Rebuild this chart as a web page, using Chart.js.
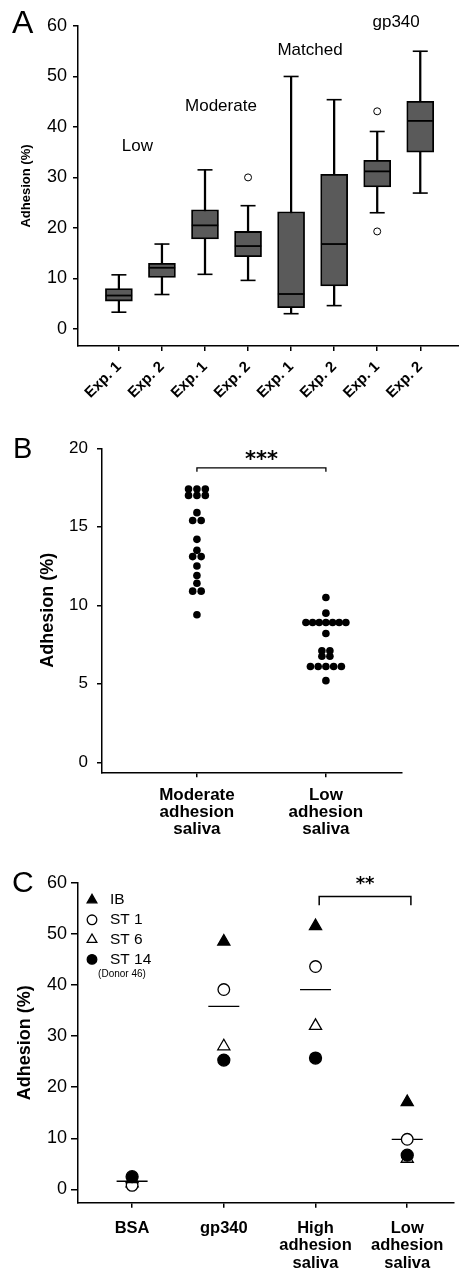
<!DOCTYPE html>
<html>
<head>
<meta charset="utf-8">
<script src="https://cdn.jsdelivr.net/npm/chart.js"></script>
<style>
  html, body { margin: 0; padding: 0; background: #fff; }
  .panel { position: absolute; left: 0; width: 459px; }
  canvas { display: block; }
</style>
</head>
<body>
<div class="panel" style="top:0px"><canvas id="chartA" width="459" height="415"></canvas></div>
<div class="panel" style="top:415px"><canvas id="chartB" width="459" height="430"></canvas></div>
<div class="panel" style="top:845px"><canvas id="chartC" width="459" height="423"></canvas></div>
<script>
// ---------- Panel A : box plots ----------
const expLabels = ['Exp. 1', 'Exp. 2', 'Exp. 1', 'Exp. 2', 'Exp. 1', 'Exp. 2', 'Exp. 1', 'Exp. 2'];
const groupNames = ['Low', 'Moderate', 'Matched', 'gp340'];
const whiskerLow = [3.3, 6.8, 10.8, 9.6, 3.0, 4.6, 23.0, 26.9];
const q1 = [5.5, 10.2, 17.8, 14.3, 4.2, 8.5, 28.1, 35.0];
const median = [6.6, 12.1, 20.5, 16.4, 6.9, 16.8, 31.2, 41.2];
const q3 = [8.0, 13.0, 23.6, 19.3, 23.2, 30.6, 33.4, 45.1];
const whiskerHigh = [10.7, 16.8, 31.5, 24.4, 50.0, 45.4, 39.1, 55.0];
const outliers = [[], [], [], [30.0], [], [], [43.1, 19.3], []];
const yTicksA = [0, 10, 20, 30, 40, 50, 60];

// ---------- Panel B : dot plot ----------
const bCategories = [['Moderate', 'adhesion', 'saliva'], ['Low', 'adhesion', 'saliva']];
const bModerate = [17.4, 17.4, 17.4, 17.0, 17.0, 17.0, 15.9, 15.4, 15.4, 14.2, 13.5, 13.1, 13.1, 12.5, 11.9, 11.4, 10.9, 10.9, 9.4];
const bModerateJitter = [-0.065, 0, 0.065, -0.065, 0, 0.065, 0, -0.033, 0.033, 0, 0, -0.033, 0.033, 0, 0, 0, -0.033, 0.033, 0];
const bLow = [10.5, 9.5, 8.9, 8.9, 8.9, 8.9, 8.9, 8.9, 8.9, 8.2, 7.1, 7.1, 6.75, 6.75, 6.1, 6.1, 6.1, 6.1, 6.1, 5.2];
const bLowJitter = [0, 0, -0.155, -0.103, -0.052, 0, 0.052, 0.103, 0.155, 0, -0.031, 0.031, -0.031, 0.031, -0.12, -0.06, 0, 0.06, 0.12, 0];
const yTicksB = [0, 5, 10, 15, 20];

// ---------- Panel C : strains ----------
const cCategories = [['BSA'], ['gp340'], ['High', 'adhesion', 'saliva'], ['Low', 'adhesion', 'saliva']];
const cIB = [2.0, 48.5, 51.5, 17.1];
const cST1 = [0.8, 39.1, 43.6, 9.8];
const cST6 = [1.2, 28.0, 32.0, 6.0];
const cST14 = [2.5, 25.3, 25.7, 6.7];
const cMean = [1.6, 35.8, 39.1, 9.8];
const yTicksC = [0, 10, 20, 30, 40, 50, 60];

Chart.defaults.font.family = '"Liberation Sans", Arial, sans-serif';
Chart.defaults.color = '#000';

const toXY = (vals, xs) => vals.map((v, i) => ({ x: xs(i), y: v }));

function axisLines(tickLength) {
  return {
    border: { display: true, color: '#000', width: 1.5 },
    grid: { display: true, drawOnChartArea: false, drawTicks: true, tickLength: tickLength, color: '#000', lineWidth: 1.5, offset: false }
  };
}

// keep the x axis from reserving extra room for its end labels
function fixX(height) {
  return s => { s.height = height; s.paddingLeft = 0; s.paddingRight = 0; };
}

// text annotations (panel letters, group names)
const textPlugin = {
  id: 'texts',
  afterDraw(chart, args, opts) {
    const ctx = chart.ctx;
    ctx.save();
    ctx.fillStyle = '#000';
    (opts.items || []).forEach(it => {
      ctx.font = it.font;
      ctx.textAlign = it.align || 'left';
      ctx.textBaseline = it.baseline || 'alphabetic';
      const x = it.px !== undefined ? it.px : chart.scales.x.getPixelForValue(it.x);
      const y = it.py !== undefined ? it.py : chart.scales.y.getPixelForValue(it.y);
      ctx.fillText(it.text, x, y);
    });
    ctx.restore();
  }
};

// significance bracket
const bracketPlugin = {
  id: 'bracket',
  afterDatasetsDraw(chart, args, o) {
    if (o.from === undefined) return;
    const { x, y } = chart.scales;
    const ctx = chart.ctx;
    const x1 = x.getPixelForValue(o.from), x2 = x.getPixelForValue(o.to);
    const yt = y.getPixelForValue(o.y), yb = y.getPixelForValue(o.y - o.drop);
    ctx.save();
    ctx.strokeStyle = '#000';
    ctx.lineWidth = o.width;
    ctx.beginPath();
    ctx.moveTo(x1, yb); ctx.lineTo(x1, yt); ctx.lineTo(x2, yt); ctx.lineTo(x2, yb);
    ctx.stroke();
    ctx.fillStyle = '#000';
    ctx.font = o.font;
    ctx.textAlign = 'center';
    ctx.textBaseline = 'middle';
    ctx.fillText(o.label, x.getPixelForValue((o.from + o.to) / 2), y.getPixelForValue(o.labelY));
    ctx.restore();
  }
};

// ---------- Chart A ----------
new Chart(document.getElementById('chartA'), {
  type: 'bar',
  data: {
    datasets: [
      {
        type: 'scatter', label: 'median', order: 0,
        data: toXY(median, i => i + 1),
        pointStyle: 'line', pointRadius: 13.2, pointBorderWidth: 1.8, pointBorderColor: '#000'
      },
      {
        type: 'scatter', label: 'caps', order: 0,
        data: toXY(whiskerLow, i => i + 1).concat(toXY(whiskerHigh, i => i + 1)),
        pointStyle: 'line', pointRadius: 7.5, pointBorderWidth: 1.6, pointBorderColor: '#000'
      },
      {
        type: 'scatter', label: 'outliers', order: 0,
        data: outliers.flatMap((arr, i) => arr.map(v => ({ x: i + 1, y: v }))),
        pointStyle: 'circle', pointRadius: 3.5, pointBorderWidth: 1, pointBorderColor: '#000', pointBackgroundColor: '#fff'
      },
      {
        label: 'box', order: 1, grouped: false,
        data: q1.map((v, i) => ({ x: i + 1, y: [v, q3[i]] })),
        backgroundColor: '#5a5a5a', borderColor: '#000', borderWidth: 1.8, borderSkipped: false,
        barThickness: 27
      },
      {
        label: 'whisker', order: 2, grouped: false,
        data: whiskerLow.map((v, i) => ({ x: i + 1, y: [v, whiskerHigh[i]] })),
        backgroundColor: '#000', borderWidth: 0, barThickness: 1.6
      }
    ]
  },
  options: {
    responsive: false, animation: false, devicePixelRatio: 1,
    layout: { autoPadding: false, padding: { left: 0, right: 0, top: 26, bottom: 0 } },
    plugins: {
      legend: { display: false }, tooltip: { enabled: false },
      texts: {
        items: [
          { text: 'A', font: '32px "Liberation Sans"', px: 12, py: 33 },
          { text: groupNames[0], font: '17px "Liberation Sans"', x: 1.43, y: 36.2, align: 'center', baseline: 'middle' },
          { text: groupNames[1], font: '17px "Liberation Sans"', x: 3.37, y: 44.0, align: 'center', baseline: 'middle' },
          { text: groupNames[2], font: '17px "Liberation Sans"', x: 5.44, y: 55.2, align: 'center', baseline: 'middle' },
          { text: groupNames[3], font: '17px "Liberation Sans"', x: 7.44, y: 60.8, align: 'center', baseline: 'middle' }
        ]
      }
    },
    scales: {
      x: {
        type: 'linear', min: 0.05, max: 8.9, offset: false,
        ...axisLines(5),
        afterBuildTicks: s => { s.ticks = expLabels.map((_, i) => ({ value: i + 1 })); },
        afterFit: fixX(69),
        ticks: {
          autoSkip: false, minRotation: 45, maxRotation: 45, padding: 7,
          font: { size: 15, weight: 'bold' },
          callback: v => expLabels[v - 1]
        }
      },
      y: {
        min: -3.4, max: 60,
        ...axisLines(5),
        afterBuildTicks: s => { s.ticks = yTicksA.map(v => ({ value: v })); },
        afterFit: s => { s.width = 78; },
        ticks: { padding: 6, font: { size: 18 } },
        title: { display: true, text: 'Adhesion (%)', font: { size: 13, weight: 'bold' }, padding: { top: 19, bottom: 0 } }
      }
    }
  },
  plugins: [textPlugin]
});

// ---------- Chart B ----------
new Chart(document.getElementById('chartB'), {
  type: 'scatter',
  data: {
    datasets: [
      {
        label: 'Moderate adhesion saliva',
        data: toXY(bModerate, i => 1 + bModerateJitter[i]),
        pointRadius: 3.8, pointBackgroundColor: '#000', pointBorderColor: '#000', pointBorderWidth: 0
      },
      {
        label: 'Low adhesion saliva',
        data: toXY(bLow, i => 2 + bLowJitter[i]),
        pointRadius: 3.8, pointBackgroundColor: '#000', pointBorderColor: '#000', pointBorderWidth: 0
      }
    ]
  },
  options: {
    responsive: false, animation: false, devicePixelRatio: 1,
    layout: { autoPadding: false, padding: { left: 0, right: 57, top: 33.3, bottom: 0 } },
    plugins: {
      legend: { display: false }, tooltip: { enabled: false },
      texts: { items: [{ text: 'B', font: '29px "Liberation Sans"', px: 13, py: 43 }] },
      bracket: { from: 1, to: 2, y: 18.75, drop: 0.25, width: 1.3, label: '***', labelY: 19.25, font: 'bold 21px "DejaVu Sans"' }
    },
    scales: {
      x: {
        type: 'linear', min: 0.264, max: 2.59,
        ...axisLines(5),
        afterBuildTicks: s => { s.ticks = bCategories.map((_, i) => ({ value: i + 1 })); },
        afterFit: fixX(72.7),
        ticks: {
          autoSkip: false, maxRotation: 0, minRotation: 0, padding: 10,
          font: { size: 17, weight: 'bold', lineHeight: 0.98 },
          callback: v => bCategories[v - 1]
        }
      },
      y: {
        min: -0.64, max: 20,
        ...axisLines(5),
        afterBuildTicks: s => { s.ticks = yTicksB.map(v => ({ value: v })); },
        afterFit: s => { s.width = 102; },
        ticks: { padding: 9, font: { size: 17 } },
        title: { display: true, text: 'Adhesion (%)', font: { size: 18, weight: 'bold' }, padding: { top: 37.5, bottom: 0 } }
      }
    }
  },
  plugins: [textPlugin, bracketPlugin]
});

// ---------- Chart C ----------
const cSeries = [
  { label: 'IB', values: cIB, style: 'triangle', radius: 7, fill: '#000', order: 1 },
  { label: 'ST 1', values: cST1, style: 'circle', radius: 5.8, fill: '#fff', order: 2 },
  { label: 'ST 6', values: cST6, style: 'triangle', radius: 7, fill: '#fff', order: 3 },
  { label: 'ST 14', values: cST14, style: 'circle', radius: 6, fill: '#000', order: 0 }
];

const legendC = {
  id: 'legendC',
  afterDraw(chart) {
    const { ctx, chartArea } = chart;
    ctx.save();
    cSeries.forEach((s, i) => {
      const px = chartArea.left + 14;
      const py = chartArea.top + 17.3 + i * 19.8;
      ctx.fillStyle = s.fill;
      ctx.strokeStyle = '#000';
      ctx.lineWidth = 1.3;
      Chart.helpers.drawPoint(ctx, { pointStyle: s.style, radius: s.style === 'triangle' ? 5.6 : 4.8, rotation: 0, borderWidth: 1.3 }, px, py);
      ctx.fillStyle = '#000';
      ctx.font = '15.5px "Liberation Sans"';
      ctx.textAlign = 'left';
      ctx.textBaseline = 'middle';
      ctx.fillText(s.label, chartArea.left + 32, py);
    });
    ctx.font = '10px "Liberation Sans"';
    ctx.textAlign = 'center';
    ctx.fillText('(Donor 46)', chartArea.left + 44, chartArea.top + 91.3);
    ctx.restore();
  }
};

new Chart(document.getElementById('chartC'), {
  type: 'scatter',
  data: {
    datasets: cSeries.map(s => ({
      label: s.label, order: s.order,
      data: toXY(s.values, i => i + 1),
      pointStyle: s.style, pointRadius: s.radius,
      pointBackgroundColor: s.fill, pointBorderColor: '#000', pointBorderWidth: 1.3
    })).concat([{
      label: 'mean', order: 5,
      data: toXY(cMean, i => i + 1),
      pointStyle: 'line', pointRadius: 15.5, pointBorderWidth: 1.3, pointBorderColor: '#000'
    }])
  },
  options: {
    responsive: false, animation: false, devicePixelRatio: 1,
    layout: { autoPadding: false, padding: { left: 0, right: 5, top: 37.7, bottom: 0 } },
    plugins: {
      legend: { display: false }, tooltip: { enabled: false },
      texts: { items: [{ text: 'C', font: '30px "Liberation Sans"', px: 12, py: 46.7 }] },
      bracket: { from: 3.04, to: 4.04, y: 57.3, drop: 1.7, width: 1.5, label: '**', labelY: 59.6, font: 'bold 18px "DejaVu Sans"' }
    },
    scales: {
      x: {
        type: 'linear', min: 0.41, max: 4.51,
        ...axisLines(5),
        afterBuildTicks: s => { s.ticks = cCategories.map((_, i) => ({ value: i + 1 })); },
        afterFit: fixX(65.3),
        ticks: {
          autoSkip: false, maxRotation: 0, minRotation: 0, padding: 12,
          font: { size: 16.5, weight: 'bold', lineHeight: 1.05 },
          callback: v => cCategories[v - 1]
        }
      },
      y: {
        min: -2.6, max: 60,
        ...axisLines(7),
        afterBuildTicks: s => { s.ticks = yTicksC.map(v => ({ value: v })); },
        afterFit: s => { s.width = 78; },
        ticks: { padding: 4, font: { size: 18 } },
        title: { display: true, text: 'Adhesion (%)', font: { size: 18, weight: 'bold' }, padding: { top: 14.2, bottom: 0 } }
      }
    }
  },
  plugins: [textPlugin, bracketPlugin, legendC]
});
</script>
</body>
</html>
